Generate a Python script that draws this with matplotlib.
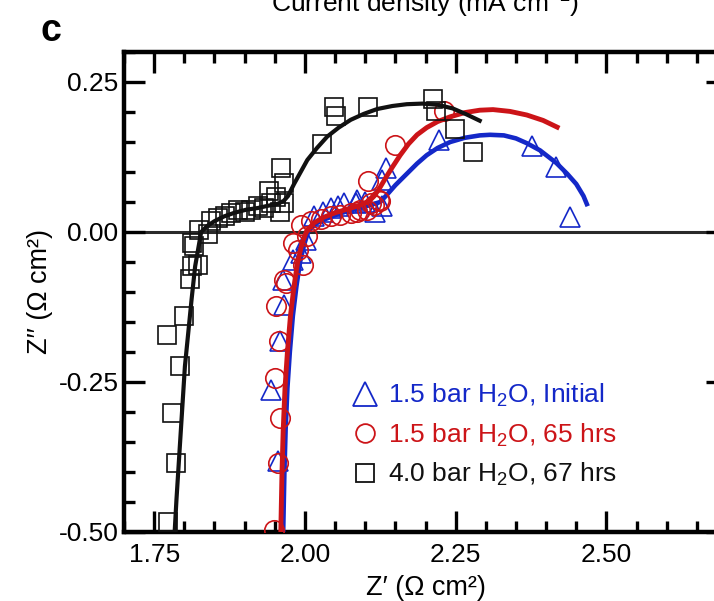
import matplotlib
matplotlib.use("Agg")
import matplotlib.pyplot as plt
from matplotlib.lines import Line2D
from matplotlib.ticker import MultipleLocator, FormatStrFormatter

plt.rcParams["font.family"] = ["Liberation Sans", "DejaVu Sans"]
plt.rcParams["mathtext.fontset"] = "custom"
plt.rcParams["mathtext.rm"] = "Liberation Sans"
plt.rcParams["mathtext.it"] = "Liberation Sans:italic"
plt.rcParams["mathtext.bf"] = "Liberation Sans:bold"
plt.rcParams["axes.unicode_minus"] = False

# ---- measured impedance points (Z', Z'') ----
init_x = [1.955, 1.944, 1.959, 1.966, 1.964, 1.980, 1.993, 2.002, 2.015, 2.030,
          2.043, 2.055, 2.065, 2.087, 2.084, 2.100, 2.117, 2.128, 2.128, 2.134,
          2.222, 2.377, 2.417, 2.440]
init_y = [-0.382, -0.263, -0.182, -0.121, -0.080, -0.046, -0.035, -0.013, 0.026, 0.033,
          0.040, 0.044, 0.048, 0.054, 0.048, 0.050, 0.034, 0.043, 0.087, 0.107,
          0.154, 0.143, 0.109, 0.025]

h65_x = [1.949, 1.955, 1.958, 1.950, 1.957, 1.952, 1.969, 1.966, 1.988, 1.997,
         1.980, 2.004, 1.993, 2.010, 2.026, 2.043, 2.059, 2.076, 2.087, 2.092,
         2.103, 2.109, 2.114, 2.123, 2.125, 2.104, 2.150, 2.230]
h65_y = [-0.496, -0.385, -0.310, -0.243, -0.182, -0.124, -0.085, -0.080, -0.030, -0.055,
         -0.018, -0.007, 0.012, 0.018, 0.021, 0.026, 0.029, 0.032, 0.034, 0.036,
         0.037, 0.048, 0.045, 0.054, 0.052, 0.085, 0.145, 0.201]

h67_x = [1.773, 1.786, 1.779, 1.793, 1.772, 1.800, 1.809, 1.812, 1.823, 1.816,
         1.813, 1.825, 1.839, 1.845, 1.856, 1.867, 1.878, 1.889, 1.900, 1.911,
         1.922, 1.933, 1.944, 1.958, 1.966, 1.941, 1.952, 1.965, 1.960, 2.029,
         2.048, 2.051, 2.105, 2.212, 2.218, 2.249, 2.278]
h67_y = [-0.483, -0.385, -0.302, -0.223, -0.172, -0.140, -0.078, -0.057, -0.055, -0.024,
         -0.018, 0.004, -0.004, 0.018, 0.023, 0.026, 0.032, 0.037, 0.034, 0.037,
         0.043, 0.040, 0.048, 0.034, 0.048, 0.068, 0.059, 0.082, 0.107, 0.146,
         0.209, 0.193, 0.209, 0.221, 0.202, 0.171, 0.134]

# ---- equivalent-circuit fit curves ----
fit_init_x = [1.964, 1.965, 1.966, 1.968, 1.971, 1.975, 1.980, 1.986, 1.992, 1.999,
              2.006, 2.018, 2.035, 2.055, 2.075, 2.095, 2.112, 2.125, 2.136, 2.150,
              2.169, 2.186, 2.202, 2.220, 2.241, 2.265, 2.290, 2.307, 2.330, 2.350,
              2.368, 2.390, 2.417, 2.435, 2.450, 2.462, 2.469]
fit_init_y = [-0.500, -0.450, -0.400, -0.330, -0.260, -0.200, -0.140, -0.090, -0.050, -0.020,
              0.002, 0.014, 0.022, 0.030, 0.036, 0.041, 0.046, 0.050, 0.062, 0.078,
              0.097, 0.114, 0.128, 0.140, 0.150, 0.157, 0.161, 0.162, 0.161, 0.156,
              0.148, 0.136, 0.115, 0.097, 0.080, 0.060, 0.043]

fit_65_x = [1.960, 1.961, 1.962, 1.964, 1.967, 1.971, 1.976, 1.982, 1.988, 1.995,
            2.003, 2.015, 2.030, 2.050, 2.070, 2.090, 2.105, 2.115, 2.125, 2.135,
            2.145, 2.158, 2.172, 2.186, 2.202, 2.220, 2.241, 2.265, 2.290, 2.312,
            2.340, 2.368, 2.395, 2.422]
fit_65_y = [-0.500, -0.450, -0.400, -0.330, -0.260, -0.200, -0.140, -0.090, -0.050, -0.020,
            0.002, 0.015, 0.024, 0.032, 0.038, 0.044, 0.050, 0.060, 0.075, 0.092,
            0.108, 0.128, 0.147, 0.162, 0.174, 0.184, 0.192, 0.199, 0.203, 0.204,
            0.201, 0.195, 0.186, 0.173]

fit_67_x = [1.784, 1.787, 1.794, 1.801, 1.812, 1.818, 1.828, 1.838, 1.850, 1.866,
            1.883, 1.902, 1.922, 1.940, 1.955, 1.965, 1.972, 1.982, 1.993, 2.004,
            2.020, 2.037, 2.056, 2.076, 2.098, 2.120, 2.145, 2.169, 2.195, 2.220,
            2.245, 2.268, 2.293]
fit_67_y = [-0.500, -0.446, -0.335, -0.224, -0.113, -0.057, 0.000, 0.010, 0.018, 0.026,
            0.032, 0.037, 0.040, 0.044, 0.047, 0.052, 0.060, 0.080, 0.100, 0.120,
            0.140, 0.159, 0.174, 0.187, 0.197, 0.205, 0.210, 0.213, 0.214, 0.212,
            0.206, 0.196, 0.184]

labels = ["1.5 bar H$_2$O, Initial", "1.5 bar H$_2$O, 65 hrs", "4.0 bar H$_2$O, 67 hrs"]
colors = ["#1428c8", "#cc1418", "#111111"]
markers = ["^", "o", "s"]
legend_ms = [17, 13.5, 12.5]

fig = plt.figure(figsize=(7.14, 6.01), dpi=100)
ax = fig.add_axes([0.17367, 0.11481, 0.84454, 0.79867])

ax.axhline(0, color="#2a2a2a", lw=2.2, zorder=1)

mkw = dict(ls="none", mfc="none", mew=1.2)
ax.plot(init_x, init_y, marker="^", ms=15, mec=colors[0], zorder=2, **mkw)
ax.plot(fit_init_x, fit_init_y, color=colors[0], lw=3.3, solid_capstyle="butt", zorder=3)
ax.plot(h65_x, h65_y, marker="o", ms=14, mec=colors[1], zorder=4, **mkw)
ax.plot(fit_65_x, fit_65_y, color=colors[1], lw=3.5, solid_capstyle="butt", zorder=5)
ax.plot(h67_x, h67_y, marker="s", ms=13, mec=colors[2], zorder=6, **mkw)
ax.plot(fit_67_x, fit_67_y, color=colors[2], lw=3.0, solid_capstyle="butt", zorder=7)

ax.set_xlim(1.70, 2.70)
ax.set_ylim(-0.50, 0.30)

ax.xaxis.set_major_locator(MultipleLocator(0.25))
ax.xaxis.set_minor_locator(MultipleLocator(0.05))
ax.yaxis.set_major_locator(MultipleLocator(0.25))
ax.yaxis.set_minor_locator(MultipleLocator(0.05))
ax.xaxis.set_major_formatter(FormatStrFormatter("%.2f"))
ax.yaxis.set_major_formatter(FormatStrFormatter("%.2f"))

for s in ax.spines.values():
    s.set_linewidth(3.2)
ax.tick_params(which="both", direction="in", top=True, right=True,
               labelsize=19, width=2.4, pad=4)
ax.tick_params(which="major", length=15)
ax.tick_params(which="minor", length=8)
ax.tick_params(axis="x", which="major", pad=8)

ax.set_xlabel("Z\u2032 (\u03a9 cm\u00b2)", fontsize=19.5)
ax.set_ylabel("Z\u2032\u2032 (\u03a9 cm\u00b2)", fontsize=19.5)
ax.xaxis.set_label_coords(0.5, -0.090)
ax.yaxis.set_label_coords(-0.118, 0.5)

handles = [Line2D([], [], marker=m, ls="none", mfc="none", mec=c, mew=1.3, ms=s)
           for m, c, s in zip(markers, colors, legend_ms)]
ax.legend(handles, labels, labelcolor=colors, fontsize=19, frameon=False,
          loc="upper left", bbox_to_anchor=(352 / 714, 1 - 382 / 601),
          bbox_transform=fig.transFigure, borderpad=0, borderaxespad=0,
          handlelength=1.0, handletextpad=0.35, labelspacing=0.47)

fig.text(41 / 714, 1 - 41 / 601, "c", fontsize=27, fontweight="bold", ha="left", va="baseline")
fig.text(425 / 714, 1 - 12.7 / 601, "Current density (mA cm$^{-2}$)", fontsize=19,
         ha="center", va="baseline")

fig.savefig("out.png", dpi=100)
